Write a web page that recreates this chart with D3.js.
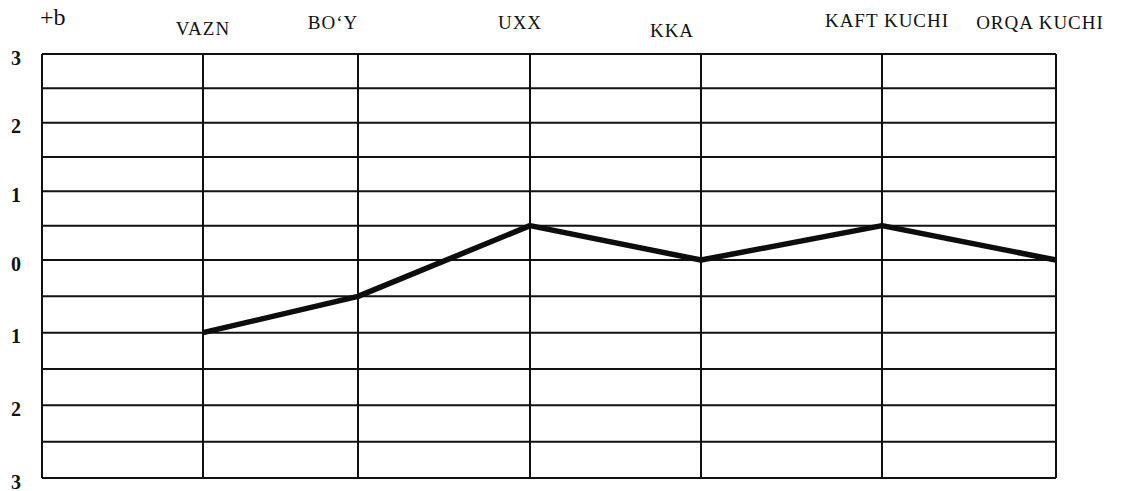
<!DOCTYPE html>
<html>
<head>
<meta charset="utf-8">
<script src="https://cdn.jsdelivr.net/npm/d3@7"></script>
<style>
	body { margin: 0; background: #fff; }
	svg { display: block; }
	.cat { font-family: "Liberation Serif", "Times New Roman", serif; font-size: 19px; fill: #111; letter-spacing: 1px; }
	.yaxis text { font-family: "Liberation Serif", serif; font-weight: bold; font-size: 20px; fill: #111; }
</style>
</head>
<body>
<div id="chart"></div>
<script>
// indicators along the top, and the deviation (in sigma) of each one
var categories = ["VAZN", "BO\u2018Y", "UXX", "KKA", "KAFT  KUCHI", "ORQA KUCHI"];
var values = [-1, -0.5, 0.5, 0, 0.5, 0];

// y tick values and the labels printed next to them (no minus signs in the original)
var yTicks = [3, 2, 1, 0, -1, -2, -3];
var yTickLabels = ["3", "2", "1", "0", "1", "2", "3"];
var gridSteps = [3, 2.5, 2, 1.5, 1, 0.5, 0, -0.5, -1, -1.5, -2, -2.5, -3];

var width = 1127, height = 491;

// columns are not evenly spaced in the original drawing, so use a piecewise scale
// index -1 is the left border, 0..5 are the categories
var x = d3.scaleLinear()
	.domain([-1, 0, 1, 2, 3, 4, 5])
	.range([42, 203, 358, 530, 701, 882, 1056]);

var y = d3.scaleLinear()
	.domain([3, 0, -3])
	.range([54, 260, 478]);

// small nudges so labels sit where they were hand placed
var labelDx = [0, -25, -10, -29, 5, -16];
var labelY = [35, 29, 29, 37, 27, 29];

var svg = d3.select("#chart").append("svg")
	.attr("width", width)
	.attr("height", height);

// horizontal grid
svg.append("g").selectAll("line")
	.data(gridSteps)
	.enter()
	.append("line")
	.attr("x1", x(-1))
	.attr("x2", x(5))
	.attr("y1", function(d) { return y(d); })
	.attr("y2", function(d) { return y(d); })
	.attr("stroke", "#111")
	.attr("stroke-width", 2);

// vertical grid (left border + one per category)
svg.append("g").selectAll("line")
	.data(d3.range(-1, categories.length))
	.enter()
	.append("line")
	.attr("x1", function(d) { return x(d); })
	.attr("x2", function(d) { return x(d); })
	.attr("y1", y(3))
	.attr("y2", y(-3))
	.attr("stroke", "#111")
	.attr("stroke-width", 2);

// y axis labels
var yAxis = d3.axisLeft(y)
	.tickValues(yTicks)
	.tickFormat(function(d, i) { return yTickLabels[i]; })
	.tickSize(0)
	.tickPadding(21);

var gy = svg.append("g")
	.attr("class", "yaxis")
	.attr("transform", "translate(" + x(-1) + ",0)")
	.call(yAxis);
gy.select(".domain").remove();
gy.selectAll("text").attr("dy", "0.5em");

// top labels
svg.append("text")
	.attr("class", "cat")
	.attr("x", 40)
	.attr("y", 25)
	.style("font-size", "24px")
	.style("letter-spacing", "0px")
	.text("+b");

svg.append("g").selectAll("text")
	.data(categories)
	.enter()
	.append("text")
	.attr("class", "cat")
	.attr("text-anchor", "middle")
	.attr("x", function(d, i) { return x(i) + labelDx[i]; })
	.attr("y", function(d, i) { return labelY[i]; })
	.text(function(d) { return d; });

// profile line
var line = d3.line()
	.x(function(d, i) { return x(i); })
	.y(function(d) { return y(d); });

svg.append("path")
	.datum(values)
	.attr("d", line)
	.attr("fill", "none")
	.attr("stroke", "#0d0d0d")
	.attr("stroke-width", 5.5)
	.attr("stroke-linejoin", "round");
</script>
</body>
</html>
